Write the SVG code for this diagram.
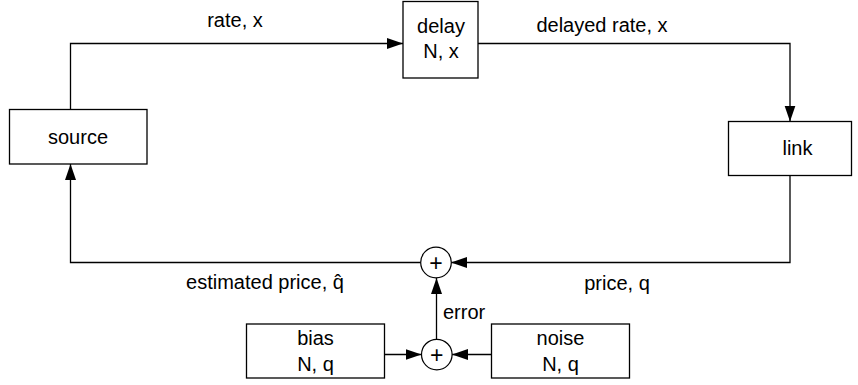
<svg xmlns="http://www.w3.org/2000/svg" width="858" height="385" viewBox="0 0 858 385">
  <defs>
    <marker id="arrow" markerUnits="userSpaceOnUse" markerWidth="16" markerHeight="12" refX="16" refY="6" orient="auto">
      <path d="M0,0.5 L16,6 L0,11.5 z" fill="#000"/>
    </marker>
    <style>
      .box { fill: #fff; stroke: #000; stroke-width: 1.3; }
      .sum { fill: #fff; stroke: #000; stroke-width: 1.2; }
      .wire { fill: none; stroke: #000; stroke-width: 1.3; marker-end: url(#arrow); }
      text { font-family: "Liberation Sans", Arial, Helvetica, sans-serif; font-size: 20px; fill: #000; text-anchor: middle; }
      .lbl { text-anchor: start; }
      .plus { font-size: 23px; }
    </style>
  </defs>

  <!-- signal connectors -->
  <g id="connectors">
    <path class="wire" d="M70.5,109.5 V43.5 H403"/>
    <path class="wire" d="M478,43.5 H790 V121.5"/>
    <path class="wire" d="M790,175.5 V262.5 H451"/>
    <path class="wire" d="M421,262.5 H70.5 V164"/>
    <path class="wire" d="M436.5,339.5 V278"/>
    <path class="wire" d="M384.5,354.5 H421.5"/>
    <path class="wire" d="M491.5,354.5 H452"/>
  </g>

  <!-- connector labels -->
  <g id="labels">
    <text x="235" y="27">rate, x</text>
    <text x="265" y="289">estimated price, q&#x302;</text>
    <text x="602" y="32">delayed rate, x</text>
    <text x="617" y="290">price, q</text>
    <text class="lbl" x="443" y="319">error</text>
  </g>

  <g id="source">
    <rect class="box" x="9.5" y="109.5" width="137.5" height="54.5"/>
    <text x="78" y="143.5">source</text>
  </g>

  <g id="delay">
    <rect class="box" x="403" y="1.5" width="75" height="76.5"/>
    <text x="441" y="33">delay</text>
    <text x="441" y="58">N, x</text>
  </g>

  <g id="link">
    <rect class="box" x="728.5" y="121.5" width="123" height="54"/>
    <text x="797.5" y="155">link</text>
  </g>

  <g id="sum-price">
    <circle class="sum" cx="436" cy="262.5" r="15.3"/>
    <text class="plus" x="436" y="270.5">+</text>
  </g>

  <g id="sum-error">
    <circle class="sum" cx="436.8" cy="354.6" r="15.3"/>
    <text class="plus" x="436.8" y="362.6">+</text>
  </g>

  <g id="bias">
    <rect class="box" x="246.5" y="324" width="138" height="54"/>
    <text x="315.5" y="345">bias</text>
    <text x="315.5" y="371">N, q</text>
  </g>

  <g id="noise">
    <rect class="box" x="491.5" y="324" width="138" height="54"/>
    <text x="560.5" y="345">noise</text>
    <text x="560.5" y="371">N, q</text>
  </g>
</svg>
